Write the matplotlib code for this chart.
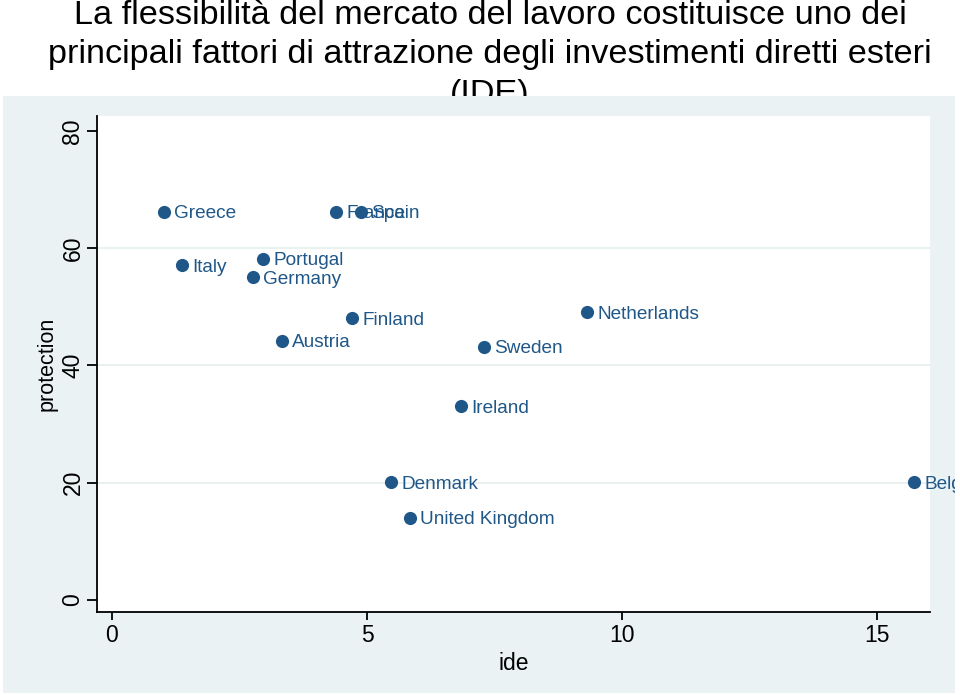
import matplotlib.pyplot as plt
from matplotlib.patches import Rectangle

plt.rcParams['font.family'] = ['Liberation Sans', 'DejaVu Sans']

# donnees
pays = ['Greece', 'Italy', 'Portugal', 'Germany', 'France', 'Spain', 'Austria',
        'Finland', 'Sweden', 'Ireland', 'Netherlands', 'Denmark',
        'United Kingdom', 'Belgium']
ide = [1.02, 1.37, 2.96, 2.76, 4.39, 4.88, 3.33, 4.71, 7.29, 6.84, 9.31, 5.47,
       5.84, 15.73]
protection = [66.2, 57.1, 58.2, 55.1, 66.2, 66.2, 44.2, 48.1, 43.2, 33.1, 49.1,
              20.1, 14.0, 20.1]
xticks = [0, 5, 10, 15]
yticks = [0, 20, 40, 60, 80]
grille = [20, 40, 60]

titre = ['La flessibilità del mercato del lavoro costituisce uno dei',
         'principali fattori di attrazione degli investimenti diretti esteri',
         '(IDE)']

bleu = '#1f5788'
fond = '#eaf2f3'

fig = plt.figure(figsize=(9.6, 6.95), dpi=100)

# titre (sous le panneau, la derniere ligne est masquee)
for i, ligne in enumerate(titre):
    fig.text(0.5104, 1 - (16 + 39 * i) / 695, ligne, ha='center', va='center',
             fontsize=24.7, color='black', zorder=0.5)

# panneau de fond
panneau = Rectangle((3 / 960, 2 / 695), 952 / 960, 597 / 695,
                    transform=fig.transFigure, facecolor=fond,
                    edgecolor='none', zorder=1)
fig.patches.append(panneau)

ax = fig.add_axes([97 / 960, 1 - 612 / 695, 833 / 960, 496 / 695])
ax.set_zorder(2)
ax.set_facecolor('white')

for g in grille:
    ax.axhline(g, color='#e4edee', lw=1.2, zorder=1)

ax.scatter(ide, protection, s=90, color=bleu, zorder=3, linewidths=0)
for nom, x, y in zip(pays, ide, protection):
    t = ax.annotate(nom, (x, y), xytext=(7.5, -1.5), textcoords='offset points',
                    ha='left', va='center', fontsize=13.7, color=bleu,
                    zorder=4, annotation_clip=False)
    t.set_clip_path(panneau)

ax.set_xlim(-0.294, 16.04)
ax.set_ylim(-2.05, 82.56)
ax.set_xticks(xticks)
ax.set_yticks(yticks)
ax.spines['top'].set_visible(False)
ax.spines['right'].set_visible(False)
for s in ['left', 'bottom']:
    ax.spines[s].set_linewidth(1.3)
ax.tick_params(axis='both', direction='out', width=1.3, labelsize=16.5)
ax.tick_params(axis='x', length=6, pad=3)
ax.tick_params(axis='y', length=7, pad=2)
for lab in ax.get_yticklabels():
    lab.set_rotation(90)
    lab.set_va('center')

ax.set_xlabel('ide', fontsize=16.5, labelpad=3)
ax.set_ylabel('protection', fontsize=15.5, labelpad=3)

fig.savefig('out.png', dpi=100)
